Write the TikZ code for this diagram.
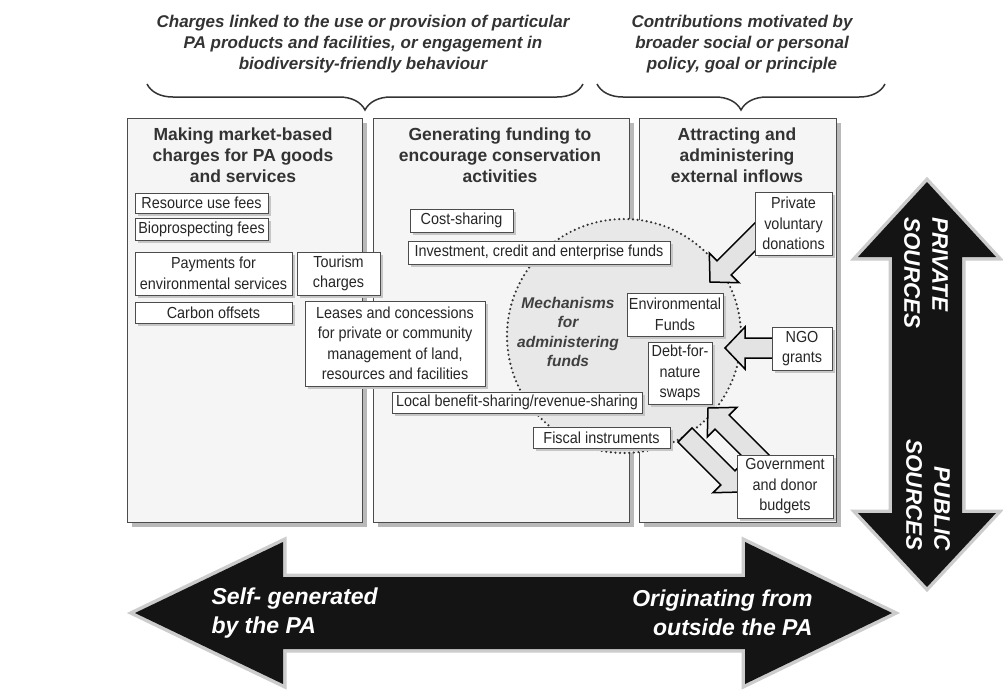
\documentclass[tikz,border=0pt]{standalone}
\usepackage{fontspec}
\setmainfont{Liberation Sans}
\newfontfamily\narrowsans[FakeStretch=0.9]{Liberation Sans}
\usetikzlibrary{calc, shadows, decorations.pathreplacing}

\newcommand{\boxfont}{\narrowsans\fontsize{16}{20.5}\selectfont}
\newcommand{\panelfont}{\fontsize{17.5}{21}\selectfont\bfseries}
\newcommand{\topfont}{\fontsize{17}{21}\selectfont\bfseries\itshape}
\newcommand{\mechfont}{\fontsize{15.5}{19.5}\selectfont\bfseries\itshape}
\newcommand{\flowfont}{\fontsize{23}{29}\selectfont\bfseries\itshape}
\newcommand{\srcfont}{\fontsize{22.5}{28}\selectfont\bfseries\itshape}

\newcommand{\blockarrow}[2]{%
	\coordinate (hb) at ($(#2)!20pt!(#1)$);
	\draw[hollow] ($(#1)!10pt!90:(#2)$) -- ($(hb)!10pt!90:(#2)$) -- ($(hb)!21pt!90:(#2)$) -- (#2)
		-- ($(hb)!21pt!-90:(#2)$) -- ($(hb)!10pt!-90:(#2)$) -- ($(#1)!10pt!-90:(#2)$) -- cycle;}

\begin{document}
\begin{tikzpicture}[x=1pt, y=-1pt,
	panel/.style={draw=black!70, line width=0.8pt, fill=gray!8, inner sep=0pt,
		drop shadow={shadow xshift=5pt, shadow yshift=-5pt, fill=gray!55, opacity=1}},
	box/.style={draw=black!70, line width=0.6pt, fill=white, font=\boxfont, text=black!85,
		align=center, inner sep=1pt,
		drop shadow={shadow xshift=2.5pt, shadow yshift=-2.5pt, fill=gray!45, opacity=1}},
	paneltitle/.style={font=\panelfont, text=black!80, align=center},
	toptext/.style={font=\topfont, text=black!80, align=center},
	brace/.style={decorate, decoration={brace, mirror, amplitude=26pt}, draw=black!80, line width=1.5pt},
	ring/.style={circle, draw=black!80, fill=gray!18, dash pattern=on 0pt off 4.6pt, line cap=round,
		line width=2.4pt, minimum size=234pt, inner sep=0pt},
	hollow/.style={draw=black, fill=gray!22, line width=1.5pt, line join=miter},
	bigarrow/.style={fill=black!92, preaction={draw=gray!40, line width=7pt, line join=miter}},
	flowtext/.style={font=\flowfont, text=white},
	srctext/.style={font=\srcfont, text=white, rotate=-90}]

	\useasboundingbox[fill=white] (0,0) rectangle (1003,689);

	\node[toptext]	(chg)	at (363,44)
		{Charges linked to the use or provision of particular\\
		PA products and facilities, or engagement in\\
		biodiversity-friendly behaviour};
	\node[toptext]	(ctb)	at (742,44)
		{Contributions motivated by\\
		broader social or personal\\
		policy, goal or principle};
	\coordinate (b1s) at (147,84);
	\coordinate (b1e) at (583,84);
	\coordinate (b2s) at (597,84);
	\coordinate (b2e) at (885,84);
	\draw[brace] (b1s) -- (b1e);
	\draw[brace] (b2s) -- (b2e);

	\node[panel, minimum width=235, minimum height=404]	(pleft)	at (244.5,320)	{};
	\node[panel, minimum width=256, minimum height=404]	(pmid)	at (501,320)	{};
	\node[panel, minimum width=197, minimum height=404]	(pright)	at (737.5,320)	{};
	\node[paneltitle]	(tleft)	at (243,155)	{Making market-based\\charges for PA goods\\and services};
	\node[paneltitle]	(tmid)	at (500,155)	{Generating funding to\\encourage conservation\\activities};
	\node[paneltitle]	(tright)	at (737,155)	{Attracting and\\administering\\external inflows};

	\node[ring]	(mech)	at (624,336)	{};
	\node[font=\mechfont, text=black!75, align=center]	(mechtxt)	at (568,332)
		{Mechanisms\\for\\administering\\funds};

	\coordinate (pvtail) at (762,230);
	\coordinate (pvtip) at (710,282);
	\coordinate (ngotail) at (778,348);
	\coordinate (ngotip) at (725,348);
	\coordinate (govtail) at (762,462);
	\coordinate (govtip) at (708,408);
	\coordinate (fistail) at (685,435);
	\coordinate (fistip) at (742,492);
	\blockarrow{pvtail}{pvtip}
	\blockarrow{ngotail}{ngotip}
	\blockarrow{govtail}{govtip}
	\blockarrow{fistail}{fistip}

	\node[box, minimum width=133, minimum height=20]	(resfee)	at (201.5,203)	{Resource use fees};
	\node[box, minimum width=133, minimum height=22]	(biofee)	at (201.5,229)	{Bioprospecting fees};
	\node[box, minimum width=157, minimum height=43]	(pes)	at (213.5,273.5)	{Payments for\\environmental services};
	\node[box, minimum width=83, minimum height=43]	(tour)	at (338.5,273.5)	{Tourism\\charges};
	\node[box, minimum width=157, minimum height=21]	(carbon)	at (213.5,312.5)	{Carbon offsets};
	\node[box, minimum width=180, minimum height=85]	(lease)	at (395,343.5)
		{Leases and concessions\\for private or community\\management of land,\\resources and facilities};
	\node[box, minimum width=103, minimum height=23]	(cost)	at (461.5,220.5)	{Cost-sharing};
	\node[box, minimum width=262, minimum height=23]	(invest)	at (539,252.5)	{Investment, credit and enterprise funds};
	\node[box, minimum width=250, minimum height=21]	(local)	at (517,402.5)	{Local benefit-sharing/revenue-sharing};
	\node[box, minimum width=137, minimum height=21]	(fiscal)	at (601.5,437.5)	{Fiscal instruments};
	\node[box, minimum width=96, minimum height=43]	(envfund)	at (675,314.5)	{Environmental\\Funds};
	\node[box, minimum width=64, minimum height=62]	(debt)	at (680,373)	{Debt-for-\\nature\\swaps};
	\node[box, minimum width=77, minimum height=63]	(private)	at (793.5,223.5)	{Private\\voluntary\\donations};
	\node[box, minimum width=60, minimum height=43]	(ngo)	at (802,348.5)	{NGO\\grants};
	\node[box, minimum width=96, minimum height=63]	(gov)	at (785,486.5)	{Government\\and donor\\budgets};

	\path[bigarrow] (135,613) -- (283,542) -- (283,577) -- (745,577) -- (745,542) -- (892,613)
		-- (745,684) -- (745,649) -- (283,649) -- (283,684) -- cycle;
	\path[bigarrow] (927,182) -- (996,257) -- (962,257) -- (962,513) -- (996,513) -- (927,587)
		-- (858,513) -- (892,513) -- (892,257) -- (858,257) -- cycle;

	\node[flowtext, align=left, anchor=west]	(self)	at (208,613)	{Self- generated\\by the PA};
	\node[flowtext, align=right, anchor=east]	(outside)	at (816,613)	{Originating from\\outside the PA};
	\node[srctext, align=left]	(privsrc)	at (926,273)	{PRIVATE\\SOURCES};
	\node[srctext, align=right]	(pubsrc)	at (928,495)	{PUBLIC\\SOURCES};
\end{tikzpicture}
\end{document}
